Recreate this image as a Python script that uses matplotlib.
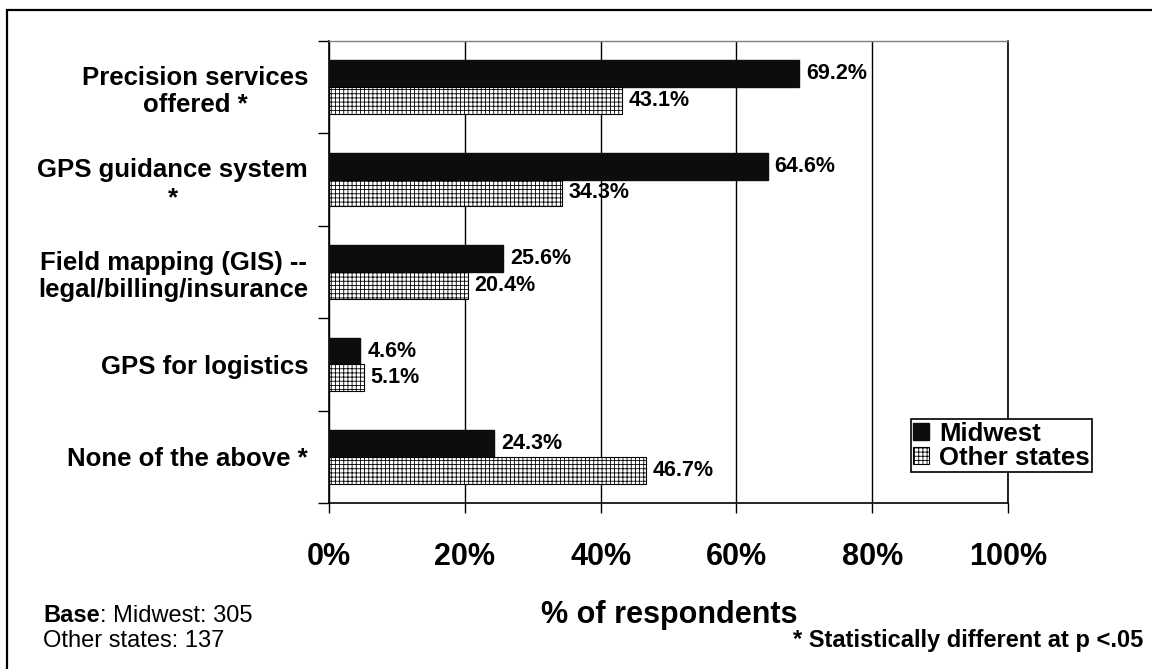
import matplotlib
matplotlib.use("Agg")
import matplotlib.pyplot as plt
from matplotlib.patches import Rectangle
import numpy as np

plt.rcParams['font.family'] = ['Liberation Sans', 'DejaVu Sans']
plt.rcParams['hatch.linewidth'] = 0.6

categories = ["Precision services\noffered *", "GPS guidance system\n*",
              "Field mapping (GIS) --\nlegal/billing/insurance",
              "GPS for logistics", "None of the above *"]
midwest = [69.2, 64.6, 25.6, 4.6, 24.3]
other_states = [43.1, 34.3, 20.4, 5.1, 46.7]
series_names = ["Midwest", "Other states"]
xticks = [0, 20, 40, 60, 80, 100]

W, H = 1152, 669
fig = plt.figure(figsize=(W / 100, H / 100), dpi=100)
ax = fig.add_axes([329 / W, 1 - 503 / H, 679 / W, (503 - 41) / H])

y = np.arange(len(categories))
h = 0.29
ax.barh(y - h / 2, midwest, height=h, color='#0d0d0d', edgecolor='#0d0d0d',
        label=series_names[0], zorder=3)
ax.barh(y + h / 2, other_states, height=h, color='white', edgecolor='black',
        hatch='++++', linewidth=0.8, label=series_names[1], zorder=3)

for yy, v in zip(y - h / 2, midwest):
    ax.annotate(f"{v:.1f}%", (v, yy), xytext=(5, 0), textcoords='offset points',
                va='center', ha='left', fontsize=15.5, fontweight='bold', zorder=4)
for yy, v in zip(y + h / 2, other_states):
    ax.annotate(f"{v:.1f}%", (v, yy), xytext=(5, 0), textcoords='offset points',
                va='center', ha='left', fontsize=15.5, fontweight='bold', zorder=4)

ax.set_xlim(0, 100)
ax.set_ylim(len(categories) - 0.5, -0.5)

ax.set_xticks(xticks)
ax.set_xticklabels([f"{t}%" for t in xticks], fontsize=22, fontweight='bold')
ax.tick_params(axis='x', direction='out', length=7, width=1, pad=21)
ax.grid(axis='x', color='black', linewidth=1, zorder=0)

ax.set_yticks(y)
ax.set_yticklabels(categories, fontsize=18.5, fontweight='bold')
for t in ax.get_yticklabels():
    t.set_multialignment('center')
ax.tick_params(axis='y', which='major', length=0, pad=15)
ax.set_yticks(np.arange(len(categories) + 1) - 0.5, minor=True)
ax.tick_params(axis='y', which='minor', direction='out', length=8, width=1)

for s in ['left', 'bottom', 'right']:
    ax.spines[s].set_color('black')
    ax.spines[s].set_linewidth(1.2)
ax.spines['top'].set_color('#808080')
ax.spines['top'].set_linewidth(1)

leg = ax.legend(loc='upper right', bbox_to_anchor=(1092 / W, 1 - 419 / H),
                bbox_transform=fig.transFigure, borderaxespad=0,
                prop={'weight': 'bold', 'size': 18.5},
                frameon=True, fancybox=False, edgecolor='black', framealpha=1,
                labelspacing=0.0, borderpad=0.1, handletextpad=0.4,
                handlelength=0.6, handleheight=0.6)
leg.get_frame().set_linewidth(1.2)
leg.set_zorder(10)

fig.text(669 / W, 1 - 623 / H, "% of respondents", ha='center', va='baseline',
         fontsize=22, fontweight='bold')

t1 = fig.text(43 / W, 1 - 622 / H, "Base", ha='left', va='baseline',
              fontsize=17, fontweight='bold')
fig.text(0, 0, "", fontsize=1)
ax.annotate(": Midwest: 305", xy=(1, 0), xycoords=t1, ha='left', va='bottom',
            fontsize=17, annotation_clip=False)
fig.text(43 / W, 1 - 647 / H, "Other states: 137", ha='left', va='baseline',
         fontsize=17)
fig.text(1143 / W, 1 - 647 / H, "* Statistically different at p <.05",
         ha='right', va='baseline', fontsize=17, fontweight='bold')

fig.patches.append(Rectangle((7 / W, -0.1), 1.2, 1.1 - 10 / H,
                             transform=fig.transFigure, fill=False,
                             edgecolor='black', linewidth=1.6))

fig.savefig("out.png", dpi=100)
